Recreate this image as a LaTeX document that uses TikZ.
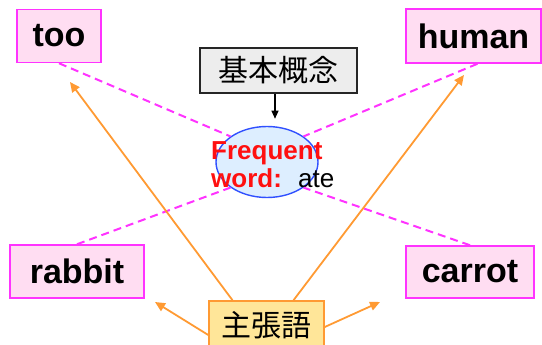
\documentclass[tikz,border=0pt]{standalone}
\usepackage{fontspec}
\setmainfont{Liberation Sans}
\newfontfamily\cjk{Noto Sans CJK JP}
\usetikzlibrary{arrows.meta,shapes.geometric}
\definecolor{pinkfill}{HTML}{FFDDF2}
\definecolor{pinkline}{HTML}{FF33FF}
\definecolor{yelfill}{HTML}{FFE699}
\definecolor{orangeline}{HTML}{FF9A33}
\definecolor{bluefill}{HTML}{DDEEFF}
\definecolor{blueline}{HTML}{3050FF}
\definecolor{grayfill}{HTML}{EDEDED}
\definecolor{redtext}{HTML}{FF1010}
\tikzset{
  wordbox/.style={draw=pinkline, fill=pinkfill, line width=1.5pt, inner sep=0pt,
    font=\fontsize{34}{38}\selectfont\bfseries},
  dashlink/.style={draw=pinkline, line width=2pt, dash pattern=on 8pt off 5pt},
  claim/.style={-{Triangle[length=10pt,width=9pt]}, draw=orangeline, fill=orangeline, line width=1.8pt},
}
\begin{document}
\begin{tikzpicture}[x=1pt,y=-1pt]
\path[use as bounding box] (0,0) rectangle (542,345);
\clip (0,0) rectangle (542,345);
\node[wordbox, minimum width=84pt, minimum height=53pt] (too) at (59,36) {too};
\node[wordbox, minimum width=135pt, minimum height=54pt] (human) at (473.5,36) {human};
\node[wordbox, minimum width=134pt, minimum height=53pt] (rabbit) at (77,271.5) {rabbit};
\node[wordbox, minimum width=128pt, minimum height=52pt] (carrot) at (470,272) {carrot};
\node[draw=black!85, fill=grayfill, line width=1.4pt, minimum width=157pt, minimum height=45pt, inner sep=0pt,
  font=\cjk\fontsize{30}{34}\selectfont] (kihon) at (278.5,70.5) {基本概念};
\node[ellipse, draw=blueline, fill=bluefill, line width=1.4pt, minimum width=102pt, minimum height=71pt, inner sep=0pt] (ell) at (267,162) {};
\node[draw=orangeline, fill=yelfill, line width=1.5pt, minimum width=115pt, minimum height=48pt, inner sep=0pt,
  font=\cjk\fontsize{30}{34}\selectfont] (claimbox) at (266.5,325) {主張語};
\node[anchor=base west, inner sep=0pt, text=redtext, font=\fontsize{26}{28}\selectfont\bfseries] (freq) at (211,160) {Frequent};
\node[anchor=base west, inner sep=0pt, text=redtext, font=\fontsize{26}{28}\selectfont\bfseries] (word) at (211,188) {word:};
\node[anchor=base west, inner sep=0pt, text=black, font=\fontsize{26}{28}\selectfont] (ate) at (298,188) {ate};
\draw[dashlink] (too.south) -- (ell.145);
\draw[dashlink] ([xshift=4pt]human.south) -- (ell.35);
\draw[dashlink] (rabbit.north) -- (ell.215);
\draw[dashlink] (carrot.north) -- (ell.325);
\draw[-{Triangle[length=8pt,width=7pt]}, line width=1.1pt] ([xshift=-3.5pt]kihon.south) -- ++(0,25);
\coordinate (tipA) at (70,82);
\coordinate (tipB) at (464,75);
\coordinate (tipC) at (155,302);
\coordinate (tipD) at (380,302);
\draw[claim] ([xshift=-34pt]claimbox.north) -- (tipA);
\draw[claim] ([xshift=27pt]claimbox.north) -- (tipB);
\draw[claim] ([yshift=-10pt]claimbox.west) -- (tipC);
\draw[claim] ([yshift=-2pt]claimbox.east) -- (tipD);
\end{tikzpicture}
\end{document}
